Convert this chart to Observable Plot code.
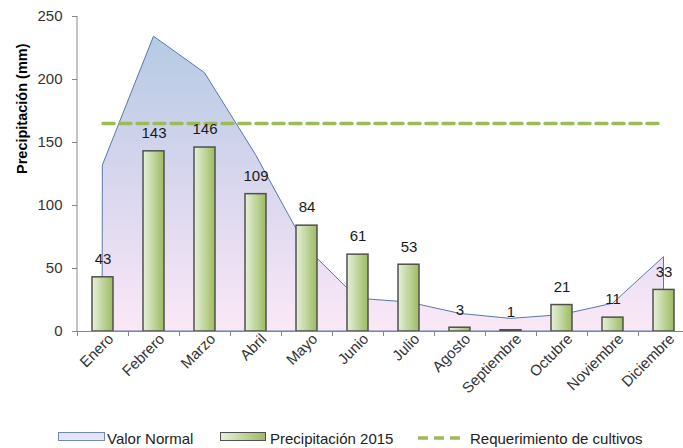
<!DOCTYPE html>
<html><head><meta charset="utf-8">
<script src="https://cdn.jsdelivr.net/npm/d3@7"></script>
<script src="https://cdn.jsdelivr.net/npm/@observablehq/plot@0.6"></script>
<style>
body{margin:0;background:#fff;font-family:"Liberation Sans",Arial,sans-serif;}
#chart{position:relative;width:683px;height:448px;overflow:hidden;background:#fff}
#chart svg{display:block}
.legend{position:absolute;left:0;top:420px;width:683px;height:28px;}
.sw{position:absolute;box-sizing:border-box;}
.lt{position:absolute;font-size:15px;color:#222;line-height:16px;white-space:nowrap}
</style></head><body>
<div id="chart"></div>
<script>
const months = ["Enero","Febrero","Marzo","Abril","Mayo","Junio","Julio","Agosto","Septiembre","Octubre","Noviembre","Diciembre"];
const precip2015 = [43,143,146,109,84,61,53,3,1,21,11,33];
const valorNormal = [132,234,205,140,66,26,23,14,10,13,22,59];
const requerimiento = [165,165,165,165,165,165,165,165,165,165,165,165];
const yTicks = [0,50,100,150,200,250];
const yTitle = "Precipitación (mm)";
const legendItems = ["Valor Normal","Precipitación 2015","Requerimiento de cultivos"];

const data = months.map((m,i)=>({month:m, precip:precip2015[i], normal:valorNormal[i], req:requerimiento[i]}));

const defsMark = (index, scales, values, dims) => {
  const g = d3.create("svg:g");
  const defs = g.append("defs");
  const ag = defs.append("linearGradient").attr("id","areaGrad").attr("x1",0).attr("y1",0).attr("x2",0).attr("y2",1);
  ag.append("stop").attr("offset","0%").attr("stop-color","#b6cae4");
  ag.append("stop").attr("offset","55%").attr("stop-color","#dcd8ef");
  ag.append("stop").attr("offset","100%").attr("stop-color","#fbe8f7");
  const bg = defs.append("linearGradient").attr("id","barGrad").attr("x1",0).attr("y1",0).attr("x2",1).attr("y2",0);
  bg.append("stop").attr("offset","0%").attr("stop-color","#e6f0da");
  bg.append("stop").attr("offset","100%").attr("stop-color","#9dbb62");
  return g.node();
};

const axisLine = (index, scales, values, dims) => {
  const g = d3.create("svg:g");
  g.append("line").attr("x1",dims.marginLeft).attr("x2",dims.marginLeft)
    .attr("y1",dims.marginTop).attr("y2",dims.height-dims.marginBottom)
    .attr("stroke","#868686").attr("stroke-width",1);
  return g.node();
};

const chart = Plot.plot({
  width: 683, height: 420,
  marginTop: 16, marginBottom: 89, marginLeft: 77, marginRight: 0,
  x: {domain: months, range: [77, 689], padding: 0},
  y: {domain: [0, 250]},
  style: {fontFamily: "'Liberation Sans', Arial, sans-serif", background: "white", color: "#333"},
  marks: [
    defsMark,
    Plot.areaY(data, {x: "month", y: "normal", fill: "url(#areaGrad)", stroke: "#5a78a8", strokeWidth: 1}),
    Plot.barY(data, {x: "month", y: "precip", fill: "url(#barGrad)", stroke: "#505050", strokeWidth: 1.5, insetLeft: 15, insetRight: 15}),
    Plot.lineY(data, {x: "month", y: "req", stroke: "#9bbb59", strokeWidth: 3.5, strokeDasharray: "11,6"}),
    Plot.text(data, {x: "month", y: "precip", text: d => String(d.precip), dy: -18, fontSize: 15, fill: "#1a1a1a"}),
    Plot.ruleY([0], {stroke: "#868686"}),
    Plot.ruleX(months, {x: d => d, y1: 0, y2: 0, insetBottom: -5, dx: -25.5, stroke: "#868686"}),
    axisLine,
    Plot.axisY({ticks: yTicks, tickSize: 5, tickPadding: 10, fontSize: 15, label: null}),
    Plot.axisX({tickRotate: -45, tickSize: 0, tickPadding: 5, dx: 8, fontSize: 15, label: null}),
    Plot.text([yTitle], {frameAnchor: "left", dx: -55, rotate: -90, fontWeight: "bold", fontSize: 14.5, fill: "#000"})
  ]
});
d3.select(chart).selectAll('[aria-label="y-axis tick"]').attr("stroke","#868686");
document.getElementById("chart").appendChild(chart);

const lg = d3.select("#chart").append("div").attr("class","legend");
lg.append("div").attr("class","sw").style("left","58px").style("top","12px").style("width","47px").style("height","9px")
  .style("background","linear-gradient(to bottom,#dfe1f3,#ece7f6)").style("border","1.5px solid #7189b6");
lg.append("div").attr("class","lt").style("left","107px").style("top","11px").text(legendItems[0]);
lg.append("div").attr("class","sw").style("left","220px").style("top","12px").style("width","46px").style("height","9px")
  .style("background","linear-gradient(to right,#e6f0da,#9dbb62)").style("border","1.5px solid #505050");
lg.append("div").attr("class","lt").style("left","270px").style("top","11px").text(legendItems[1]);
lg.append("svg").attr("width",44).attr("height",8).style("position","absolute").style("left","417px").style("top","14px")
  .append("line").attr("x1",1).attr("x2",43).attr("y1",4).attr("y2",4).attr("stroke","#9bbb59").attr("stroke-width",3.5).attr("stroke-dasharray","10,6");
lg.append("div").attr("class","lt").style("left","470px").style("top","11px").text(legendItems[2]);
</script>
</body></html>
